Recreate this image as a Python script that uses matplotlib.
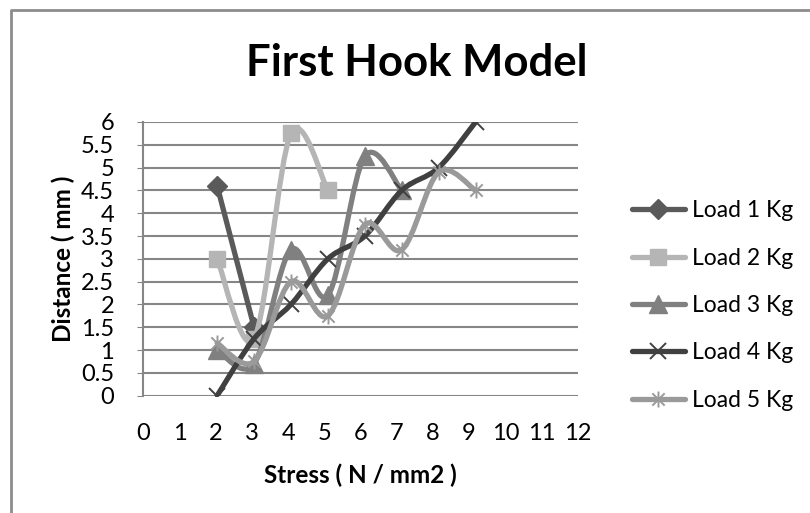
import numpy as np
import matplotlib as mpl
mpl.use('Agg')
from matplotlib import pyplot as plt
from matplotlib.path import Path
from matplotlib.patches import PathPatch
from matplotlib.lines import Line2D

mpl.rcParams['font.family'] = ['Lato', 'DejaVu Sans']

# stress values (N / mm2) at which each load was measured
stress = [2.04, 3.06, 4.08, 5.10, 6.12, 7.14, 8.16, 9.18]

load1 = [4.6, 1.5]
load2 = [3.0, 1.25, 5.75, 4.5]
load3 = [1.0, 0.7, 3.2, 2.2, 5.25, 4.5]
load4 = [0.0, 1.25, 2.0, 3.0, 3.5, 4.5, 5.0, 6.0]
load5 = [1.15, 0.75, 2.5, 1.75, 3.75, 3.2, 4.9, 4.5]

names = ['Load 1 Kg', 'Load 2 Kg', 'Load 3 Kg', 'Load 4 Kg', 'Load 5 Kg']
series = [load1, load2, load3, load4, load5]
colors = ['#5a5a5a', '#b5b5b5', '#808080', '#404040', '#9a9a9a']

# excel style star marker (x with a vertical bar)
star = Path([(-1, -1), (1, 1), (-1, 1), (1, -1), (0, -1.3), (0, 1.3)],
            [Path.MOVETO, Path.LINETO, Path.MOVETO, Path.LINETO, Path.MOVETO, Path.LINETO])
mstyle = [dict(marker='D', ms=10.5, mfc=colors[0], mec=colors[0]),
          dict(marker='s', ms=12, mfc=colors[1], mec=colors[1]),
          dict(marker='^', ms=12.5, mfc=colors[2], mec=colors[2]),
          dict(marker='x', ms=11.5, mfc='none', mec=colors[3], mew=1.4),
          dict(marker=star, ms=11.5, mfc='none', mec=colors[4], mew=1.4)]


def smooth_path(xs, ys):
    # bezier smoothing like excel's "smoothed line"
    p = np.column_stack([xs, ys])
    n = len(p)
    if n < 3:
        return Path(p)
    verts = [p[0]]
    codes = [Path.MOVETO]
    for i in range(n - 1):
        p0 = p[i - 1] if i > 0 else p[i]
        p3 = p[i + 2] if i + 2 < n else p[i + 1]
        c1 = p[i] + (p[i + 1] - p0) / 6.0
        c2 = p[i + 1] - (p3 - p[i]) / 6.0
        verts += [c1, c2, p[i + 1]]
        codes += [Path.CURVE4] * 3
    return Path(verts, codes)


fig = plt.figure(figsize=(8.1, 5.13), dpi=100)
ax = fig.add_axes([0.1769, 0.2287, 0.5363, 0.5335])

for k, (ys, col) in enumerate(zip(series, colors)):
    xs = stress[:len(ys)]
    ax.add_patch(PathPatch(smooth_path(xs, ys), fill=False, edgecolor=col,
                           lw=3.8, capstyle='round', joinstyle='round', zorder=2 + k))
    ax.plot(xs, ys, ls='none', zorder=2.5 + k, **mstyle[k])

ax.set_xlim(0, 12)
ax.set_ylim(0, 6)
ax.set_xticks(range(0, 13))
yt = np.arange(0, 6.01, 0.5)
ax.set_yticks(yt)
ax.set_yticklabels(['{:g}'.format(v) for v in yt])
ax.tick_params(axis='x', length=0, pad=20, labelsize=17)
ax.tick_params(axis='y', length=4, color='#868686', pad=17, labelsize=17)
ax.grid(axis='y', color='#868686', lw=1.5)
ax.set_axisbelow(True)
for s in ['top', 'right', 'bottom']:
    ax.spines[s].set_visible(False)
ax.spines['left'].set_color('#868686')
ax.spines['left'].set_linewidth(1.5)

ax.set_xlabel('Stress ( N / mm2 )', fontsize=17.5, fontweight='bold', labelpad=14)
ax.set_ylabel('Distance ( mm )', fontsize=17.5, fontweight='bold', labelpad=4)
fig.text(0.514, 0.878, 'First Hook Model', fontsize=31.5, fontweight='bold',
         ha='center', va='center')

handles = [Line2D([], [], color=c, lw=3.8, solid_capstyle='round', **m)
           for c, m in zip(colors, mstyle)]
leg = fig.legend(handles, names, loc='center left', bbox_to_anchor=(632 / 810, 0.4045),
                 frameon=False, fontsize=16.5, handlelength=2.3, handletextpad=0.3,
                 labelspacing=1.15, borderpad=0, borderaxespad=0)

# chart border (cropped at right and bottom)
fig.add_artist(Line2D([10.5 / 810, 10.5 / 810, 1.0], [0.0, 1 - 9.5 / 513, 1 - 9.5 / 513],
                      transform=fig.transFigure, color='#8c8c8c', lw=2))

fig.savefig('out.png', dpi=100)
